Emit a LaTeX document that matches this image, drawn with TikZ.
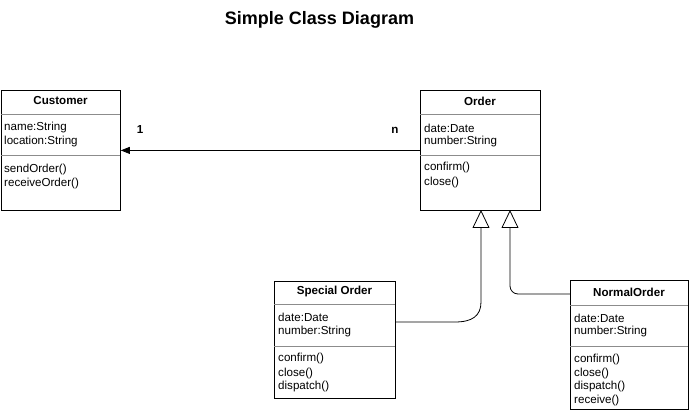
\documentclass[tikz,border=0pt]{standalone}
\usepackage{fontspec}
\setmainfont{Liberation Sans}
\usetikzlibrary{arrows.meta}
\begin{document}
\begin{tikzpicture}[x=1pt,y=-1pt,
  classbox/.style={draw=black, line width=0.8pt, anchor=north west, inner sep=0pt},
  divider/.style={draw=black!45, line width=0.6pt},
  ctitle/.style={anchor=center, inner sep=0pt, font=\fontsize{11.6}{13}\selectfont\bfseries},
  attr/.style={anchor=west, inner sep=0pt, font=\fontsize{11.6}{13}\selectfont},
  mult/.style={anchor=center, inner sep=0pt, font=\fontsize{11.6}{13}\selectfont\bfseries},
  conn/.style={draw=black, line width=0.8pt},
  inherit/.style={conn, -{Triangle[open, width=17pt, length=18pt, line width=0.8pt]}}
]
\useasboundingbox (0,0) rectangle (691,411);

\node (title) at (319.5,20) {\fontsize{18}{21}\selectfont\bfseries Simple Class Diagram};

% Customer
\node[classbox, minimum width=119pt, minimum height=120pt] (cust) at (1,90) {};
\draw[divider] (1,114) -- (120,114);
\draw[divider] (1,155) -- (120,155);
\node[ctitle] (custT) at (60.5,101) {Customer};
\node[attr] (custA1) at (4,128) {name:String};
\node[attr] (custA2) at (4,142) {location:String};
\node[attr] (custM1) at (4,170) {sendOrder()};
\node[attr] (custM2) at (4,184) {receiveOrder()};

% Order
\node[classbox, minimum width=120pt, minimum height=120pt] (order) at (420,90) {};
\draw[divider] (420,114) -- (540,114);
\draw[divider] (420,155) -- (540,155);
\node[ctitle] (orderT) at (480,101) {Order};
\node[attr] (orderA1) at (424,128) {date:Date};
\node[attr] (orderA2) at (424,142) {number:String};
\node[attr] (orderM1) at (424,168) {confirm()};
\node[attr] (orderM2) at (424,183) {close()};

% Special Order
\node[classbox, minimum width=121pt, minimum height=117pt] (spec) at (274,281) {};
\draw[divider] (274,304) -- (395,304);
\draw[divider] (274,346) -- (395,346);
\node[ctitle] (specT) at (334.5,291.5) {Special Order};
\node[attr] (specA1) at (278,317.5) {date:Date};
\node[attr] (specA2) at (278,332) {number:String};
\node[attr] (specM1) at (278,358) {confirm()};
\node[attr] (specM2) at (278,373) {close()};
\node[attr] (specM3) at (278,387) {dispatch()};

% NormalOrder
\node[classbox, minimum width=118pt, minimum height=129pt] (norm) at (570,280) {};
\draw[divider] (570,305) -- (688,305);
\draw[divider] (570,346) -- (688,346);
\node[ctitle] (normT) at (629,292) {NormalOrder};
\node[attr] (normA1) at (574,318) {date:Date};
\node[attr] (normA2) at (574,332) {number:String};
\node[attr] (normM1) at (574,359) {confirm()};
\node[attr] (normM2) at (574,373) {close()};
\node[attr] (normM3) at (574,387) {dispatch()};
\node[attr] (normM4) at (574,400) {receive()};

% association
\draw[conn, -{Triangle[width=7pt, length=9pt]}] (order.west) -- (cust.east);
\node[mult] (m1) at (140,130) {1};
\node[mult] (mn) at (395,130) {n};

% inheritance
\coordinate (sp) at (395,322);
\coordinate (o1) at (481,210);
\coordinate (np) at (570,294);
\coordinate (o2) at (510,210);
\draw[inherit] (sp) -- (455,322) .. controls (472,322) and (481,316) .. (481,302) -- (o1);
\draw[inherit, rounded corners=8pt] (np) -- (510,294) -- (o2);
\end{tikzpicture}
\end{document}
